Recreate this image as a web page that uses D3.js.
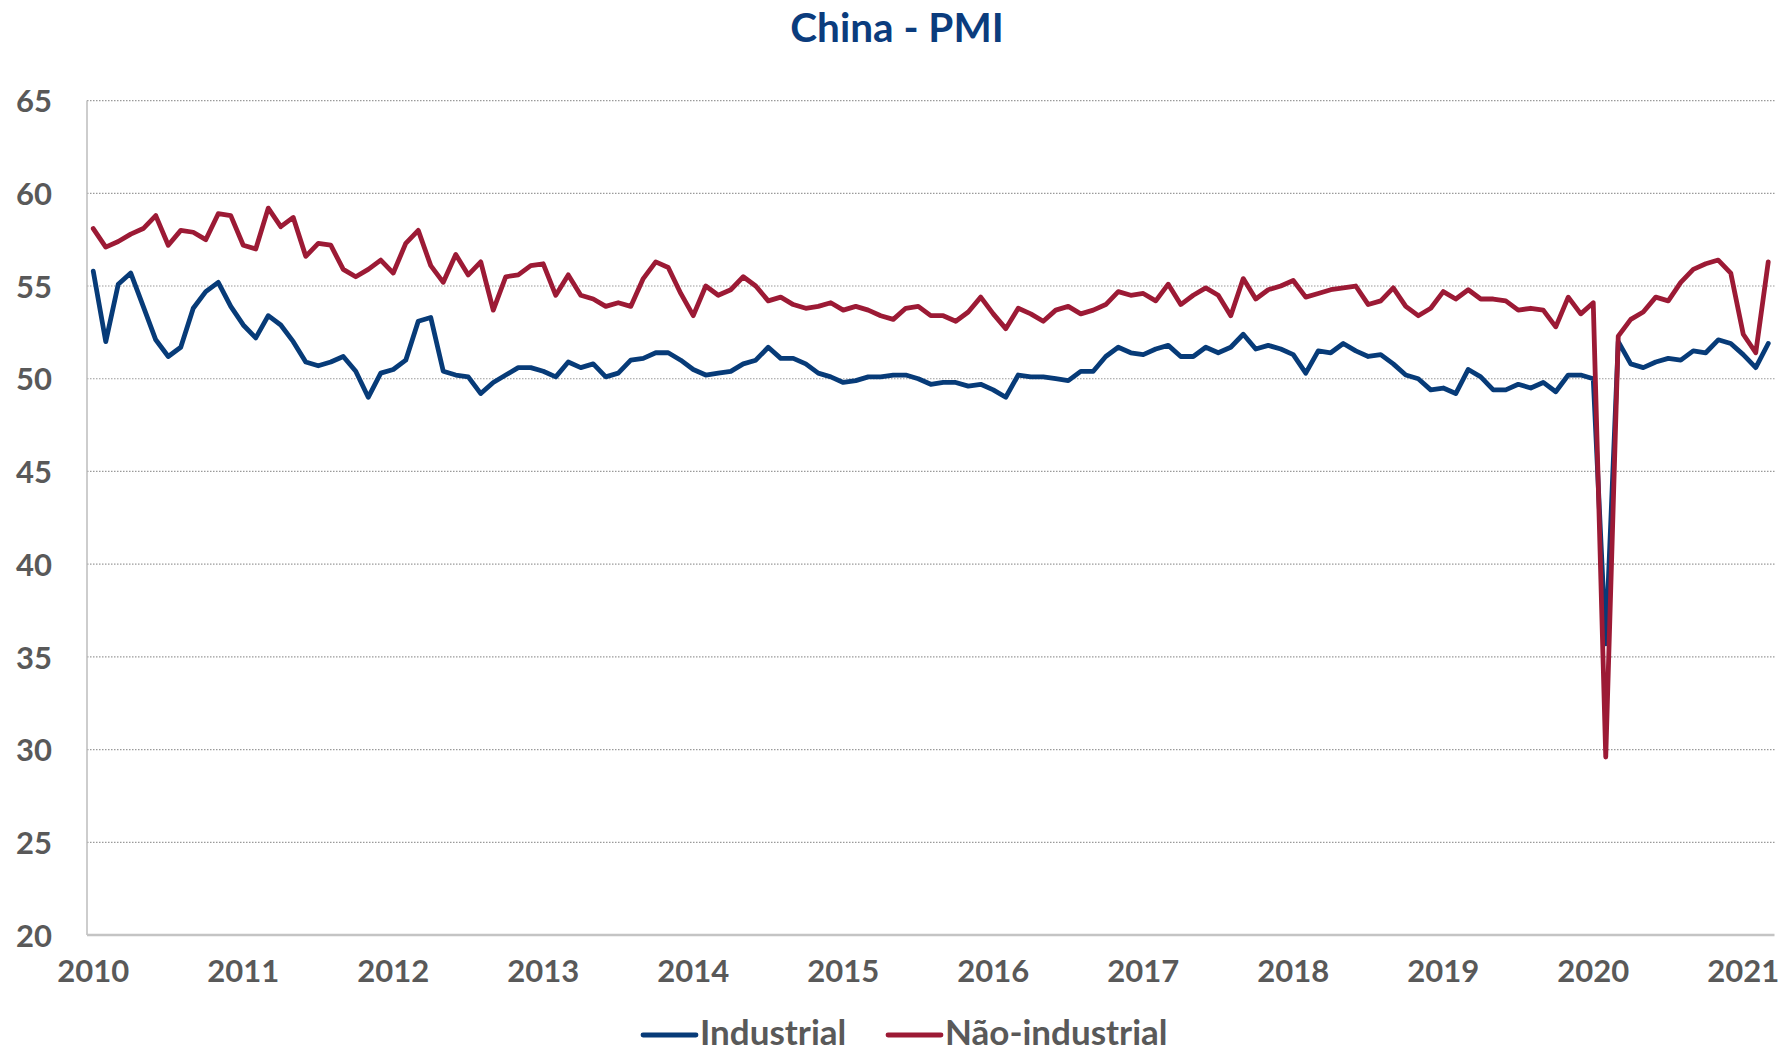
<!DOCTYPE html>
<html>
<head>
<meta charset="utf-8">
<script src="https://cdn.jsdelivr.net/npm/d3@7"></script>
<style>
  html, body { margin: 0; padding: 0; background: #fff; }
  text { font-family: Lato, "Open Sans", sans-serif; font-weight: 700; }
</style>
</head>
<body>
<svg id="chart" width="1783" height="1055"></svg>
<script>
const title = "China - PMI";
const years = ["2010","2011","2012","2013","2014","2015","2016","2017","2018","2019","2020","2021"];
const monthsPerYear = 12;
const yTicks = [20, 25, 30, 35, 40, 45, 50, 55, 60, 65];
const seriesNames = ["Industrial", "Não-industrial"];
const seriesColors = ["#073B78", "#9C1A35"];

const industrial = [
  55.8, 52.0, 55.1, 55.7, 53.9, 52.1, 51.2, 51.7, 53.8, 54.7, 55.2, 53.9,
  52.9, 52.2, 53.4, 52.9, 52.0, 50.9, 50.7, 50.9, 51.2, 50.4, 49.0, 50.3,
  50.5, 51.0, 53.1, 53.3, 50.4, 50.2, 50.1, 49.2, 49.8, 50.2, 50.6, 50.6,
  50.4, 50.1, 50.9, 50.6, 50.8, 50.1, 50.3, 51.0, 51.1, 51.4, 51.4, 51.0,
  50.5, 50.2, 50.3, 50.4, 50.8, 51.0, 51.7, 51.1, 51.1, 50.8, 50.3, 50.1,
  49.8, 49.9, 50.1, 50.1, 50.2, 50.2, 50.0, 49.7, 49.8, 49.8, 49.6, 49.7,
  49.4, 49.0, 50.2, 50.1, 50.1, 50.0, 49.9, 50.4, 50.4, 51.2, 51.7, 51.4,
  51.3, 51.6, 51.8, 51.2, 51.2, 51.7, 51.4, 51.7, 52.4, 51.6, 51.8, 51.6,
  51.3, 50.3, 51.5, 51.4, 51.9, 51.5, 51.2, 51.3, 50.8, 50.2, 50.0, 49.4,
  49.5, 49.2, 50.5, 50.1, 49.4, 49.4, 49.7, 49.5, 49.8, 49.3, 50.2, 50.2,
  50.0, 35.7, 52.0, 50.8, 50.6, 50.9, 51.1, 51.0, 51.5, 51.4, 52.1, 51.9,
  51.3, 50.6, 51.9
];

const naoIndustrial = [
  58.1, 57.1, 57.4, 57.8, 58.1, 58.8, 57.2, 58.0, 57.9, 57.5, 58.9, 58.8,
  57.2, 57.0, 59.2, 58.2, 58.7, 56.6, 57.3, 57.2, 55.9, 55.5, 55.9, 56.4,
  55.7, 57.3, 58.0, 56.1, 55.2, 56.7, 55.6, 56.3, 53.7, 55.5, 55.6, 56.1,
  56.2, 54.5, 55.6, 54.5, 54.3, 53.9, 54.1, 53.9, 55.4, 56.3, 56.0, 54.6,
  53.4, 55.0, 54.5, 54.8, 55.5, 55.0, 54.2, 54.4, 54.0, 53.8, 53.9, 54.1,
  53.7, 53.9, 53.7, 53.4, 53.2, 53.8, 53.9, 53.4, 53.4, 53.1, 53.6, 54.4,
  53.5, 52.7, 53.8, 53.5, 53.1, 53.7, 53.9, 53.5, 53.7, 54.0, 54.7, 54.5,
  54.6, 54.2, 55.1, 54.0, 54.5, 54.9, 54.5, 53.4, 55.4, 54.3, 54.8, 55.0,
  55.3, 54.4, 54.6, 54.8, 54.9, 55.0, 54.0, 54.2, 54.9, 53.9, 53.4, 53.8,
  54.7, 54.3, 54.8, 54.3, 54.3, 54.2, 53.7, 53.8, 53.7, 52.8, 54.4, 53.5,
  54.1, 29.6, 52.3, 53.2, 53.6, 54.4, 54.2, 55.2, 55.9, 56.2, 56.4, 55.7,
  52.4, 51.4, 56.3
];

// categories: one per month (label shown only on January)
const categories = industrial.map((_, i) => years[Math.floor(i / monthsPerYear)] + "-" + String(i % monthsPerYear + 1).padStart(2, "0"));

const svg = d3.select("#chart");
const plotLeft = 87, plotRight = 1774.5, plotTop = 100.6, plotBottom = 935;

const x = d3.scaleBand().domain(categories).range([plotLeft, plotRight]).padding(0);
const y = d3.scaleLinear().domain([20, 65]).range([plotBottom, plotTop]);
const cx = c => x(c) + x.bandwidth() / 2;

// title
svg.append("text")
  .attr("x", 897).attr("y", 42)
  .attr("text-anchor", "middle")
  .attr("font-size", 40.5)
  .attr("fill", "#0B3C7D")
  .text(title);

// gridlines
svg.append("g").selectAll("line")
  .data(yTicks.filter(t => t > 20))
  .join("line")
  .attr("x1", plotLeft).attr("x2", plotRight)
  .attr("y1", d => y(d)).attr("y2", d => y(d))
  .attr("stroke", "#9A9A9A")
  .attr("stroke-width", 1.2)
  .attr("stroke-dasharray", "1.5,1.5");

// axis lines
svg.append("line")
  .attr("x1", plotLeft).attr("x2", plotLeft)
  .attr("y1", y(65)).attr("y2", y(20))
  .attr("stroke", "#BDBDBD").attr("stroke-width", 1.5);
svg.append("line")
  .attr("x1", plotLeft).attr("x2", plotRight)
  .attr("y1", y(20)).attr("y2", y(20))
  .attr("stroke", "#C4C4C4").attr("stroke-width", 2.5);

// y axis labels
const yAxis = d3.axisLeft(y).tickValues(yTicks).tickSize(0).tickPadding(0).tickFormat(d3.format("d"));
const gy = svg.append("g").attr("transform", "translate(52,0)").call(yAxis);
gy.select(".domain").remove();
gy.selectAll("text")
  .attr("font-size", 31).attr("fill", "#595959")
  .attr("font-family", "Lato, 'Open Sans', sans-serif").attr("font-weight", 700)
  .attr("dy", "0.36em");

// x axis labels
const janCats = categories.filter((c, i) => i % monthsPerYear === 0);
const xAxis = d3.axisBottom(x).tickValues(janCats).tickSize(0).tickPadding(0).tickFormat(c => c.slice(0, 4));
const gx = svg.append("g").attr("transform", "translate(0,982)").call(xAxis);
gx.select(".domain").remove();
gx.selectAll("text")
  .attr("font-size", 31).attr("fill", "#595959")
  .attr("font-family", "Lato, 'Open Sans', sans-serif").attr("font-weight", 700)
  .attr("dy", 0).attr("y", 0);

// lines
const series = [industrial, naoIndustrial];
const line = d3.line().x((d, i) => cx(categories[i])).y(d => y(d));
series.forEach((s, k) => {
  svg.append("path")
    .datum(s)
    .attr("d", line)
    .attr("fill", "none")
    .attr("stroke", seriesColors[k])
    .attr("stroke-width", 4.8)
    .attr("stroke-linejoin", "round")
    .attr("stroke-linecap", "round");
});

// legend
const legendItems = [
  { name: seriesNames[0], color: seriesColors[0], x0: 643 },
  { name: seriesNames[1], color: seriesColors[1], x0: 888 }
];
const lg = svg.append("g");
legendItems.forEach(it => {
  lg.append("line")
    .attr("x1", it.x0).attr("x2", it.x0 + 53)
    .attr("y1", 1035).attr("y2", 1035)
    .attr("stroke", it.color).attr("stroke-width", 4.8)
    .attr("stroke-linecap", "round");
  lg.append("text")
    .attr("x", it.x0 + 57).attr("y", 1045)
    .attr("font-size", 35).attr("fill", "#595959")
    .text(it.name);
});
</script>
</body>
</html>
